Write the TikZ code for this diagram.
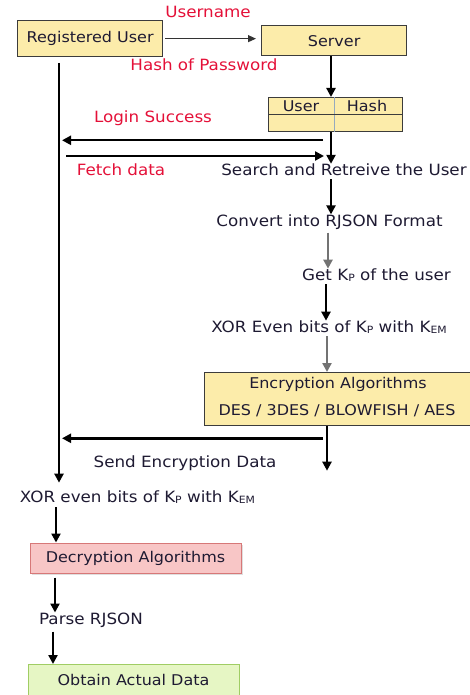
\documentclass[tikz,border=0pt]{standalone}
\usepackage{fontspec}
\setmainfont[FakeStretch=1.08]{DejaVu Sans}
\usetikzlibrary{arrows.meta,shadows}
\definecolor{boxyellow}{RGB}{252,236,170}
\definecolor{boxedge}{RGB}{60,60,60}
\definecolor{lblred}{RGB}{228,16,56}
\definecolor{txtdark}{RGB}{30,26,50}
\definecolor{decfill}{RGB}{248,198,198}
\definecolor{decedge}{RGB}{215,120,120}
\definecolor{obtfill}{RGB}{230,246,196}
\definecolor{obtedge}{RGB}{160,205,100}
\definecolor{gridline}{RGB}{150,170,190}
\newcommand{\sub}[1]{\raisebox{-0.5pt}{\fontsize{10}{10}\selectfont #1}}
\tikzset{
  x=1pt, y=-1pt,
  every node/.style={font=\fontsize{15.5}{18}\selectfont, text=txtdark, inner sep=0pt},
  boxtext/.style={font=\fontsize{14.8}{18}\selectfont},
  ybox/.style={draw=boxedge, line width=1.3pt, fill=boxyellow, anchor=north west},
  red label/.style={text=lblred},
  flow/.style={line width=2.4pt, draw=black, -{Triangle[length=9pt,width=9pt]}},
  grayflow/.style={flow, draw=black!55},
  thin flow/.style={line width=1.1pt, draw=black!80, -{Triangle[length=8pt,width=7pt]}},
}
\begin{document}
\begin{tikzpicture}
\useasboundingbox (0,0) rectangle (470,695);

% top row
\node[ybox, minimum width=145pt, minimum height=36pt] (ru) at (17,20) {};
\node[boxtext] at (ru.center) {Registered User};
\node[ybox, minimum width=145pt, minimum height=30pt] (srv) at (261,25) {};
\node[boxtext] at (srv.center) {Server};
\node[red label] (uname) at (208,12) {Username};
\node[red label] (hpw) at (204,65) {Hash of Password};

% user / hash table
\node[draw=boxedge, line width=1.3pt, fill=boxyellow, anchor=north west,
      minimum width=134pt, minimum height=34pt] (tbl) at (268,97) {};
\draw[gridline, line width=0.8pt] (tbl.north -| 334,0) -- (tbl.south -| 334,0);
\draw[boxedge, line width=1pt] (tbl.west |- 0,115) -- (tbl.east |- 0,115);
\node[boxtext] (thu) at (301,106) {User};
\node[boxtext] (thh) at (367,106) {Hash};

% server side steps
\node (search) at (344,170) {Search and Retreive the User};
\node (conv) at (329.5,222) {Convert into RJSON Format};
\node (getkp) at (376.5,275) {Get K\sub{P} of the user};
\node (xor1) at (329,327) {XOR Even bits of K\sub{P} with K\sub{EM}};
\node[ybox, minimum width=268pt, minimum height=53pt] (enc) at (204,372) {};
\node[boxtext] (enc1) at (338,384) {Encryption Algorithms};
\node[boxtext] (enc2) at (337,411) {DES / 3DES / BLOWFISH / AES};

% exchange labels
\node[red label] (login) at (153,118) {Login Success};
\node[red label] (fetch) at (121,170) {Fetch data};
\node (send) at (185,463) {Send Encryption Data};

% client side steps
\node (xor2) at (137.5,497) {XOR even bits of K\sub{P} with K\sub{EM}};
\node[draw=decedge, line width=1pt, fill=decfill, minimum width=211pt, minimum height=30pt,
      drop shadow={opacity=0.25, shadow xshift=1.5pt, shadow yshift=-1.5pt}] (dec) at (135.5,558) {};
\node[boxtext] at (dec.center) {Decryption Algorithms};
\node (parse) at (91,620) {Parse RJSON};
\node[draw=obtedge, line width=1pt, fill=obtfill, anchor=north west,
      minimum width=211pt, minimum height=36pt] (obt) at (28,664) {};
\node[boxtext] at (133.5,680) {Obtain Actual Data};

% client lane
\coordinate (lane) at (59,63);

% connectors
\draw[thin flow] (ru.east -| 165,0) -- (ru.east -| 256,0);
\draw[flow] (srv.south -| 331,0) -- (tbl.north -| 331,0);
\draw[flow] (tbl.south -| 331,0) -- (search.north -| 331,0);
\draw[flow] (tbl.south -| 323,0) ++(0,8) coordinate (lsr) -- (lsr -| 62,0);
\draw[flow] (lane |- 0,156) ++(7,0) coordinate (fdl) -- (fdl -| 324,0);
\draw[flow] (lane) -- ([yshift=8pt]lane |- xor2.north);
\draw[flow] (search.south -| 331,0) ++(0,3) -- (conv.north -| 331,0);
\draw[grayflow] (conv.south -| 328,0) ++(0,3) -- (getkp.north -| 328,0);
\draw[flow] (getkp.south -| 326,0) ++(0,3) -- (xor1.north -| 326,0);
\draw[grayflow] (xor1.south -| 327,0) ++(0,3) -- (enc.north -| 327,0);
\draw[flow] (enc.south -| 327,0) -- (send.south -| 327,0);
\draw[flow] (enc.south -| 323,0) ++(0,12) coordinate (ser) -- (ser -| 62,0);
\draw[flow] (xor2.south -| 56,0) ++(0,4) -- (dec.north -| 56,0);
\draw[flow] (dec.south -| 55,0) ++(0,4) -- (parse.north -| 55,0);
\draw[flow] (parse.south -| 53,0) ++(0,4) -- (obt.north -| 53,0);
\end{tikzpicture}
\end{document}
